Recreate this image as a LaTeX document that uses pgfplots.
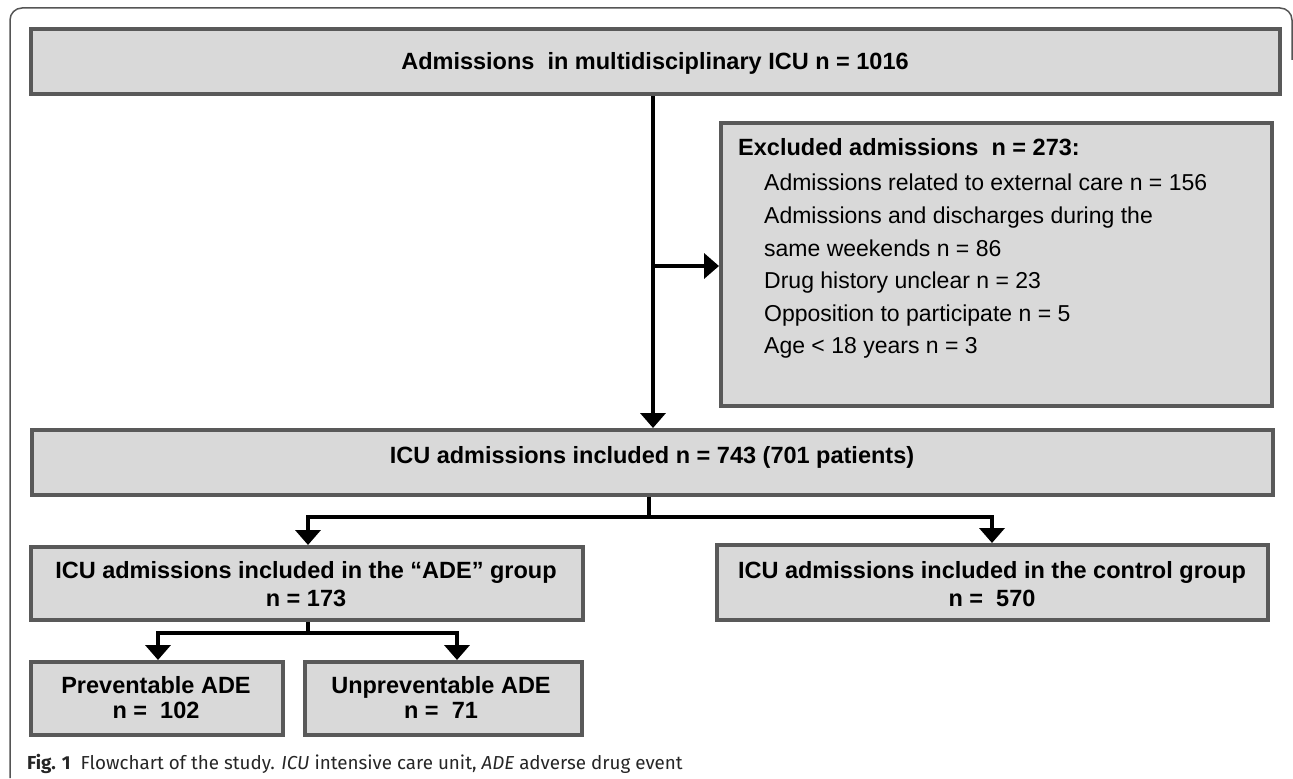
\documentclass[border=0pt]{standalone}
\usepackage{fontspec}
\setmainfont{Liberation Sans}
\newfontfamily\capfont{Fira Sans}
\usepackage{pgfplots}
\pgfplotsset{compat=1.18}
\usetikzlibrary{arrows.meta}
\definecolor{boxfill}{HTML}{D9D9D9}
\definecolor{boxedge}{HTML}{595959}
\definecolor{framec}{HTML}{555555}
\begin{document}
\begin{tikzpicture}
\begin{axis}[scale only axis, width=1293bp, height=778bp,
  xmin=0, xmax=1293, ymin=0, ymax=778, y dir=reverse,
  hide axis, clip=false]
\tikzset{
  box/.style={fill=boxfill, draw=boxedge, line width=4.5bp},
  arr/.style={line width=4.5bp, black, -{Triangle[length=15bp,width=25bp]}},
  ln/.style={line width=4.5bp, black},
  bt/.style={font=\fontsize{23.5bp}{28bp}\selectfont\bfseries, anchor=base, inner sep=0pt},
  rt/.style={font=\fontsize{23bp}{28bp}\selectfont, anchor=base west, inner sep=0pt}
}
\path (axis cs:0,0) (axis cs:1293,778);
% outer frame
\draw[line width=1.5bp, framec, rounded corners=12bp]
  (axis cs:10,778) -- (axis cs:10,8) -- (axis cs:1292,8) -- (axis cs:1292,60);
% boxes
\draw[box] (axis cs:31,29) rectangle (axis cs:1280,94);
\draw[box] (axis cs:721,123) rectangle (axis cs:1272,406);
\draw[box] (axis cs:32,430) rectangle (axis cs:1273,495);
\draw[box] (axis cs:31,547) rectangle (axis cs:583,620);
\draw[box] (axis cs:717,545) rectangle (axis cs:1268,620);
\draw[box] (axis cs:31,662) rectangle (axis cs:283,735);
\draw[box] (axis cs:305,662) rectangle (axis cs:582,735);
% connectors
\draw[arr] (axis cs:653,96) -- (axis cs:653,428);
\draw[arr] (axis cs:653,266) -- (axis cs:719,266);
\draw[ln, line join=miter] (axis cs:649,497) -- (axis cs:649,517);
\draw[arr] (axis cs:649,517) -- (axis cs:308,517) -- (axis cs:308,545);
\draw[arr] (axis cs:649,517) -- (axis cs:992,517) -- (axis cs:992,543);
\draw[ln] (axis cs:308,622) -- (axis cs:308,633);
\draw[arr] (axis cs:308,633) -- (axis cs:158,633) -- (axis cs:158,660);
\draw[arr] (axis cs:308,633) -- (axis cs:457,633) -- (axis cs:457,660);
% texts
\node[bt] at (axis cs:655,70) {Admissions\ \ in multidisciplinary ICU n = 1016};
\node[bt, anchor=base west] at (axis cs:738,155) {Excluded admissions\ \ n = 273:};
\node[rt] at (axis cs:764,190) {Admissions related to external care n = 156};
\node[rt] at (axis cs:764,223) {Admissions and discharges during the};
\node[rt] at (axis cs:764,256) {same weekends n = 86};
\node[rt] at (axis cs:764,288) {Drug history unclear n = 23};
\node[rt] at (axis cs:764,321) {Opposition to participate n = 5};
\node[rt] at (axis cs:764,353) {Age < 18 years n = 3};
\node[bt] at (axis cs:652,463) {ICU admissions included n = 743 (701 patients)};
\node[bt] at (axis cs:306,578) {ICU admissions included in the “ADE” group};
\node[bt] at (axis cs:306,606) {n = 173};
\node[bt] at (axis cs:992,578) {ICU admissions included in the control group};
\node[bt] at (axis cs:992,606) {n =\ \ 570};
\node[bt] at (axis cs:156,693) {Preventable ADE};
\node[bt] at (axis cs:156,718) {n =\ \ 102};
\node[bt] at (axis cs:441,693) {Unpreventable ADE};
\node[bt] at (axis cs:441,718) {n =\ \ 71};
\node[anchor=base west, inner sep=0pt, font=\capfont\fontsize{18.8bp}{22bp}\selectfont, text=black!85]
  at (axis cs:27,769) {\textbf{Fig. 1}\ \ Flowchart of the study. \textit{ICU} intensive care unit, \textit{ADE} adverse drug event};
\end{axis}
\end{tikzpicture}
\end{document}
